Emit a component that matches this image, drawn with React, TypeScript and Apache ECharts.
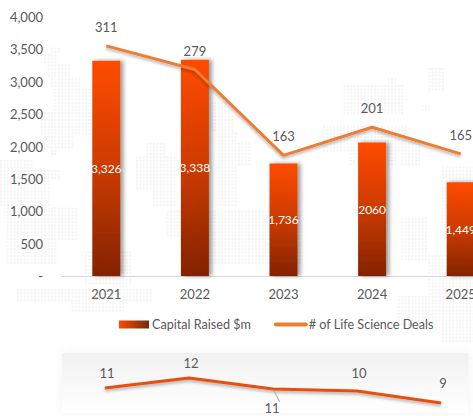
import React, { useEffect, useRef } from "react";
import * as echarts from "echarts";

const years = ["2021", "2022", "2023", "2024", "2025"];
const capitalRaised = [3326, 3338, 1736, 2060, 1449];
const capitalLabels = ["3,326", "3,338", "1,736", "2060", "1,449"];
const deals = [311, 279, 163, 201, 165];
const sparkValues = [11, 12, 10.9, 10.7, 9.5];
const sparkLabels = ["11", "12", "11", "10", "9"];

const FONT = "Lato";
const TEXT = "#595959";

const mapBlocks = [
  [48, 45, 60, 52], [43, 52, 55, 62], [45, 62, 68, 75], [48, 75, 80, 88], [52, 88, 90, 110], [38, 110, 90, 135], [42, 135, 72, 148], [48, 148, 56, 156],
  [0, 158, 32, 168], [0, 168, 60, 180], [0, 180, 50, 205], [5, 205, 75, 240], [5, 240, 55, 265], [85, 250, 130, 285], [15, 287, 150, 300], [70, 300, 125, 310],
  [145, 140, 165, 155], [135, 155, 175, 190], [150, 190, 175, 205], [210, 100, 232, 130], [215, 130, 235, 205], [165, 210, 240, 235], [180, 235, 235, 262], [233, 140, 250, 165], [233, 210, 300, 262],
  [322, 125, 405, 150], [350, 150, 395, 165], [343, 85, 403, 115], [385, 75, 395, 85], [425, 65, 445, 90], [420, 103, 430, 110], [400, 140, 420, 165],
  [400, 217, 425, 260], [440, 165, 473, 225], [425, 255, 473, 295], [395, 295, 473, 325], [440, 325, 473, 340],
];

function dotPath() {
  const seen = new Set<string>();
  let d = "";
  for (const [x0, y0, x1, y1] of mapBlocks) {
    for (let y = 0; y < 345; y += 3.4) {
      for (let x = 0; x < 473; x += 3.4) {
        if (x >= x0 && x <= x1 && y >= y0 && y <= y1) {
          const k = x.toFixed(1) + "_" + y.toFixed(1);
          if (!seen.has(k)) {
            seen.add(k);
            d += `M${x.toFixed(1)} ${y.toFixed(1)}h2v2h-2z`;
          }
        }
      }
    }
  }
  return d;
}

export default function App() {
  const ref = useRef<HTMLDivElement>(null);
  useEffect(() => {
    echarts.graphic.registerShape("dotmap", echarts.graphic.extendPath(dotPath(), {}));
    const chart = echarts.init(ref.current!, undefined, { renderer: "svg" });
    const barGrad = new echarts.graphic.LinearGradient(0, 0, 0, 1, [
      { offset: 0, color: "#ff4b00" },
      { offset: 0.5, color: "#cc3b00" },
      { offset: 1, color: "#832300" },
    ]);
    const legendGrad = new echarts.graphic.LinearGradient(0, 0, 1, 0, [
      { offset: 0, color: "#ff4b00" },
      { offset: 1, color: "#6f2a10" },
    ]);
    const sparkOverrides: any[] = [
      { distance: 8 },
      { distance: 8 },
      { position: "bottom", distance: 12, offset: [-1, 0] },
      { distance: 11 },
      { distance: 13 },
    ];
    chart.setOption({
      animation: false,
      backgroundColor: "#ffffff",
      textStyle: { fontFamily: FONT },
      graphic: [
        { type: "dotmap", x: 0, y: 0, z: -10, silent: true, style: { fill: "#f4f4f4" } },
        {
          type: "rect", z: -5, silent: true,
          shape: { x: 62, y: 353, width: 406, height: 60 },
          style: {
            fill: new echarts.graphic.LinearGradient(0, 0, 0, 1, [
              { offset: 0, color: "#f1f1f1" },
              { offset: 1, color: "#ffffff" },
            ]),
            shadowBlur: 12, shadowColor: "rgba(0,0,0,0.05)",
          },
        },
      ],
      legend: {
        left: 119, top: 318, padding: 0, itemWidth: 30, itemHeight: 8, itemGap: 23,
        textStyle: { color: TEXT, fontFamily: FONT, fontSize: 12.6, padding: [0, 0, 0, -2] },
        data: [
          { name: "Capital Raised $m", icon: "rect", itemStyle: { color: legendGrad, shadowBlur: 0, shadowOffsetX: 0 } },
          { name: "# of Life Science Deals", itemStyle: { opacity: 0 }, lineStyle: { width: 4, color: "#ed7d31", shadowBlur: 0, shadowOffsetY: 0, cap: "round" } },
        ],
      },
      grid: [
        { left: 62, right: 0, top: 17, height: 259 },
        { left: 105, right: 64, top: 368, height: 40 },
      ],
      xAxis: [
        {
          type: "category", gridIndex: 0, data: years,
          axisTick: { show: false },
          axisLine: { lineStyle: { color: "#d9d9d9", width: 1 } },
          axisLabel: { color: TEXT, fontFamily: FONT, fontSize: 13, margin: 11 },
        },
        { type: "category", gridIndex: 1, data: years, boundaryGap: false, show: false },
      ],
      yAxis: [
        {
          type: "value", gridIndex: 0, min: 0, max: 4000, interval: 500,
          splitLine: { show: false }, axisLine: { show: false }, axisTick: { show: false },
          axisLabel: {
            color: TEXT, fontFamily: FONT, fontSize: 13, margin: 19,
            formatter: (v: number) => (v === 0 ? "-" : v.toLocaleString("en-US")),
          },
        },
        { type: "value", gridIndex: 0, min: 0, max: 350, show: false, splitLine: { show: false } },
        { type: "value", gridIndex: 1, min: 9, max: 13, show: false, splitLine: { show: false } },
      ],
      series: [
        {
          name: "Capital Raised $m", type: "bar", xAxisIndex: 0, yAxisIndex: 0,
          barWidth: 28, z: 2,
          data: capitalRaised.map((v, i) => ({
            value: v,
            label: { formatter: capitalLabels[i] },
          })),
          itemStyle: {
            color: barGrad,
            shadowColor: "rgba(0,0,0,0.4)", shadowBlur: 4, shadowOffsetX: 3, shadowOffsetY: 0,
          },
          label: { show: true, position: "inside", color: "#ffffff", fontFamily: FONT, fontSize: 12 },
        },
        {
          name: "# of Life Science Deals", type: "line", xAxisIndex: 0, yAxisIndex: 1,
          data: deals, symbol: "circle", symbolSize: 1, showSymbol: true, showAllSymbol: true, z: 3,
          lineStyle: { color: "#ed7d31", width: 3, shadowColor: "rgba(0,0,0,0.3)", shadowBlur: 3, shadowOffsetY: 2 },
          itemStyle: { color: "#ed7d31" },
          label: { show: true, position: "top", distance: 12, color: TEXT, fontFamily: FONT, fontSize: 13 },
        },
        {
          name: "spark", type: "line", xAxisIndex: 1, yAxisIndex: 2,
          symbol: "circle", symbolSize: 1, showSymbol: true, showAllSymbol: true, z: 3,
          data: sparkValues.map((v, i) => ({
            value: v,
            label: { formatter: sparkLabels[i], ...sparkOverrides[i] },
            ...(i === 2 ? { labelLine: { show: true, lineStyle: { color: "#a6a6a6", width: 1 } } } : {}),
          })),
          itemStyle: { color: "#e8500a" },
          lineStyle: { color: "#e8500a", width: 3, shadowColor: "rgba(0,0,0,0.3)", shadowBlur: 3, shadowOffsetY: 2 },
          label: { show: true, position: "top", offset: [2, 0], color: TEXT, fontFamily: FONT, fontSize: 13 },
        },
      ],
    });
    return () => chart.dispose();
  }, []);
  return (
    <div style={{ position: "fixed", left: 0, top: 0, width: 473, height: 416, overflow: "hidden" }}>
      <div ref={ref} style={{ width: 505, height: 416 }} />
    </div>
  );
}
